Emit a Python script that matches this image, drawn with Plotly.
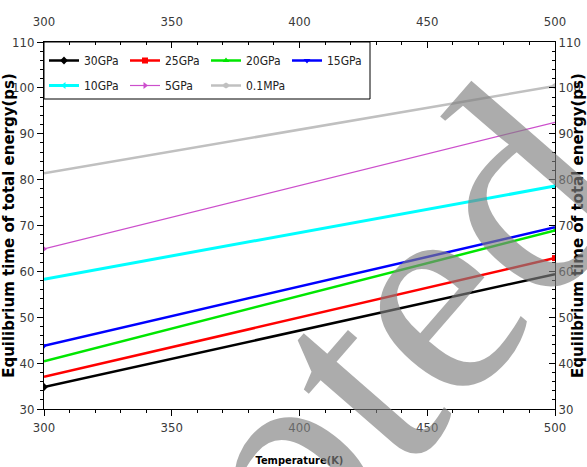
import plotly.graph_objects as go

# Equilibrium time of total energy (ps) versus temperature (K) at several pressures
temperature = [300, 500]
series_names = ["30GPa", "25GPa", "20GPa", "15GPa", "10GPa", "5GPa", "0.1MPa"]
t_30gpa = [34.8, 59.4]
t_25gpa = [37.0, 62.9]
t_20gpa = [40.4, 68.9]
t_15gpa = [43.8, 69.6]
t_10gpa = [58.3, 78.6]
t_5gpa = [64.9, 92.5]
t_01mpa = [81.4, 100.4]
x_ticks = [300, 350, 400, 450, 500]
y_ticks = [30, 40, 50, 60, 70, 80, 90, 100, 110]

series_values = [t_30gpa, t_25gpa, t_20gpa, t_15gpa, t_10gpa, t_5gpa, t_01mpa]
colors = ["#000000", "#ff0000", "#00e600", "#0000ff", "#00ffff", "#cc4fcc", "#c0c0c0"]
widths = [2.5, 2.5, 2.5, 2.5, 3, 1.2, 2.5]
symbols = ["diamond", "square", "triangle-up", "triangle-down",
           "triangle-left", "triangle-right", "hexagon"]
legend_ids = ["legend", "legend", "legend", "legend", "legend2", "legend2", "legend2"]

NARROW = "DejaVu Sans Condensed, Roboto, Liberation Sans, sans-serif"
TICK_FONT = dict(family=NARROW, size=13, color="#3a3a3a")
TITLE_FONT_Y = dict(family="DejaVu Sans", size=15, color="#000000", weight="bold")
TITLE_FONT_X = dict(family=NARROW, size=11, color="#000000", weight="bold")
LEGEND_FONT = dict(family=NARROW, size=12, color="#222222")
Y_TITLE = "Equilibrium time of total energy(ps)"

fig = go.Figure()
for name, vals, c, w, s, lg in zip(series_names, series_values, colors, widths, symbols, legend_ids):
    fig.add_trace(go.Scatter(
        x=temperature, y=vals, name=name, mode="lines+markers",
        line=dict(color=c, width=w),
        marker=dict(symbol=s, size=6, color=c, maxdisplayed=1),
        legend=lg,
    ))

# empty trace so the mirrored top/right axes are drawn
fig.add_trace(go.Scatter(x=[], y=[], xaxis="x2", yaxis="y2", showlegend=False))

W, H = 587, 467
ML, MR, MT, MB = 44, 32, 42, 58
plot_w = W - ML - MR
plot_h = H - MT - MB

common_x = dict(range=[300, 500], tickvals=x_ticks, showgrid=False, zeroline=False,
                showline=True, linecolor="black", linewidth=1, tickcolor="black",
                tickfont=TICK_FONT, ticklen=6, automargin=False)
common_y = dict(range=[30, 110], tickvals=y_ticks, showgrid=False, zeroline=False,
                showline=True, linecolor="black", linewidth=1, tickcolor="black",
                tickfont=TICK_FONT, ticklen=6, automargin=False)

legend_common = dict(orientation="h", x=0.0, xanchor="left", yanchor="top",
                     bgcolor="rgba(0,0,0,0)", borderwidth=0, itemwidth=30,
                     entrywidth=36, font=LEGEND_FONT)

fig.update_layout(
    width=W, height=H, autosize=False,
    margin=dict(l=ML, r=MR, t=MT, b=MB, pad=0),
    paper_bgcolor="white", plot_bgcolor="white",
    xaxis=dict(**common_x, side="bottom", ticks="outside",
               minor=dict(dtick=10, ticks="outside", ticklen=3, tickcolor="black"),
               title=dict(text="Temperature(K)", font=TITLE_FONT_X, standoff=22)),
    xaxis2=dict(**common_x, overlaying="x", side="top", ticks="inside", ticklabelstandoff=10,
                minor=dict(dtick=10, ticks="inside", ticklen=3, tickcolor="black")),
    yaxis=dict(**common_y, side="left", ticks="outside",
               minor=dict(dtick=2, ticks="outside", ticklen=3, tickcolor="black"),
               title=dict(text=Y_TITLE, font=TITLE_FONT_Y, standoff=6)),
    yaxis2=dict(**common_y, overlaying="y", side="right", ticks="inside",
                minor=dict(dtick=2, ticks="inside", ticklen=3, tickcolor="black"),
                title=dict(text=Y_TITLE, font=TITLE_FONT_Y, standoff=4)),
    legend=dict(**legend_common, y=1 - 4 / plot_h),
    legend2=dict(**legend_common, y=1 - 29 / plot_h),
    showlegend=True,
)

# frame around both legend rows
fig.add_shape(type="rect", xref="paper", yref="paper",
              x0=0, x1=(370 - ML) / plot_w, y0=1 - 57 / plot_h, y1=1,
              line=dict(color="black", width=1), fillcolor="rgba(0,0,0,0)", layer="above")

# diagonal watermark
fig.add_annotation(text="Accepted", xref="paper", yref="paper",
                   x=(194 - ML) / plot_w, y=(H - MB - 563) / plot_h,
                   xanchor="center", yanchor="middle", showarrow=False, textangle=-49,
                   font=dict(family="Liberation Serif", size=300, color="rgba(128,128,128,0.65)"))

fig.write_html("out.html")
